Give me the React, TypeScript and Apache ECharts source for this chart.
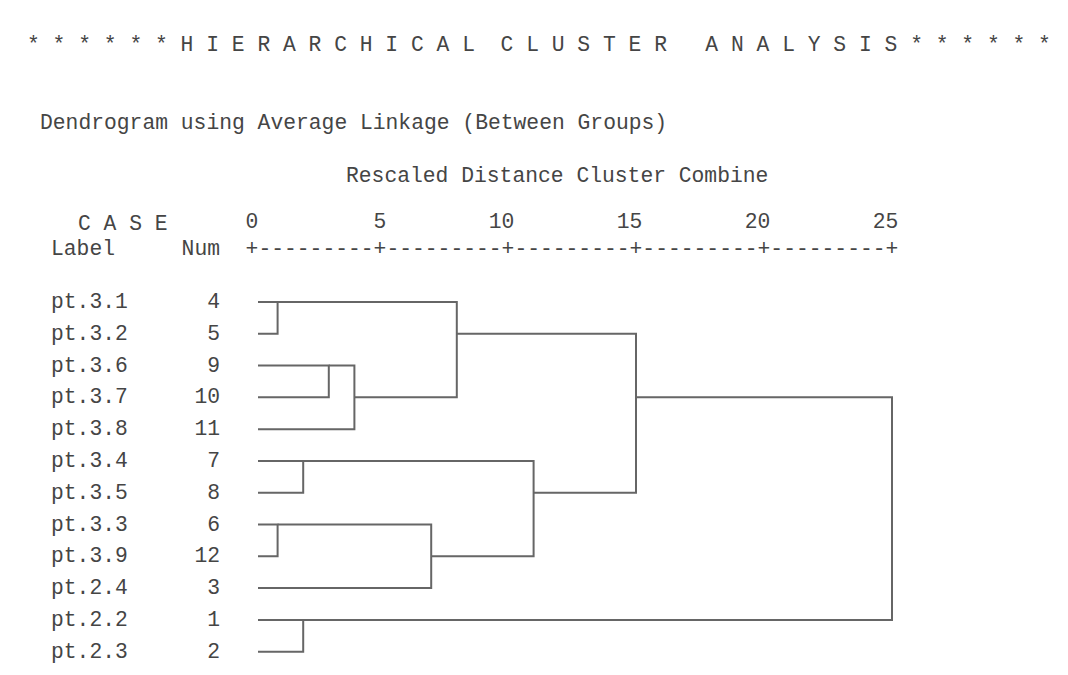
import React, { useEffect, useRef } from "react";
import * as echarts from "echarts";

// ---- data ----
const caseLabels = ["pt.3.1", "pt.3.2", "pt.3.6", "pt.3.7", "pt.3.8", "pt.3.4", "pt.3.5", "pt.3.3", "pt.3.9", "pt.2.4", "pt.2.2", "pt.2.3"];
const caseNums = ["4", "5", "9", "10", "11", "7", "8", "6", "12", "3", "1", "2"];
// merges: cluster ids (0..11 = leaves in display order, 12+ = clusters created by earlier merges)
const mergeLeft = [0, 7, 5, 10, 2, 16, 13, 12, 14, 19, 21];
const mergeRight = [1, 8, 6, 11, 3, 4, 9, 17, 18, 20, 15];
const mergeDistance = [1, 1, 2, 2, 3, 4, 7, 8, 11, 15, 25];
const distanceTicks = [0, 5, 10, 15, 20, 25];

const titleText = "* * * * * * H I E R A R C H I C A L  C L U S T E R   A N A L Y S I S * * * * * *";
const subtitleText = "Dendrogram using Average Linkage (Between Groups)";
const axisTitleText = "Rescaled Distance Cluster Combine";

// ---- style ----
const FONT = '"Liberation Mono", "DejaVu Sans Mono", monospace';
const FS = 21.33;
const TEXT = "#454545";
const LINE = "#666666";
const LEAF_OFFSET = 6;

export default function App() {
  const ref = useRef<HTMLDivElement>(null);

  useEffect(() => {
    if (!ref.current) return;
    const chart = echarts.init(ref.current, null, { renderer: "svg" });

    const nodes: { x: number; y: number }[] = caseLabels.map((_, i) => ({ x: 0, y: i }));
    const mergeData = mergeLeft.map((l, k) => {
      const a = nodes[l];
      const b = nodes[mergeRight[k]];
      const d = mergeDistance[k];
      nodes.push({ x: d, y: Math.floor((a.y + b.y) / 2) });
      return [a.x, a.y, d, b.x, b.y];
    });

    const axisRule = distanceTicks.map(() => "+").join("---------");

    const textStyle = (extra: any) => ({
      fontFamily: FONT,
      fontSize: FS,
      fill: TEXT,
      ...extra,
    });

    chart.setOption({
      animation: false,
      backgroundColor: "#ffffff",
      grid: { left: 252, right: 176, top: 286.1, bottom: 7.4, containLabel: false },
      xAxis: {
        type: "value",
        min: 0,
        max: 25,
        interval: 5,
        position: "top",
        axisLine: { show: false },
        axisTick: { show: false },
        splitLine: { show: false },
        axisLabel: {
          margin: 64,
          align: "center",
          verticalAlign: "middle",
          fontFamily: FONT,
          fontSize: FS,
          color: TEXT,
          formatter: (v: number) => {
            const s = String(v);
            return s + "\u00a0".repeat(s.length - 1);
          },
        },
      },
      yAxis: [
        {
          type: "value",
          min: -0.5,
          max: 11.5,
          inverse: true,
          show: false,
        },
        {
          type: "category",
          data: caseNums,
          inverse: true,
          position: "left",
          axisLine: { show: false },
          axisTick: { show: false },
          splitLine: { show: false },
          axisLabel: {
            interval: 0,
            margin: 32,
            align: "right",
            fontFamily: FONT,
            fontSize: FS,
            color: TEXT,
          },
        },
        {
          type: "category",
          data: caseLabels,
          inverse: true,
          position: "left",
          axisLine: { show: false },
          axisTick: { show: false },
          splitLine: { show: false },
          axisLabel: {
            interval: 0,
            margin: 201,
            align: "left",
            fontFamily: FONT,
            fontSize: FS,
            color: TEXT,
          },
        },
      ],
      graphic: [
        { type: "text", x: 27, y: 45, style: textStyle({ text: titleText, verticalAlign: "middle" }) },
        { type: "text", x: 40, y: 123, style: textStyle({ text: subtitleText, verticalAlign: "middle" }) },
        { type: "text", x: 346, y: 176, style: textStyle({ text: axisTitleText, verticalAlign: "middle" }) },
        { type: "text", x: 78, y: 224, style: textStyle({ text: "C A S E", verticalAlign: "middle" }) },
        { type: "text", x: 51, y: 249, style: textStyle({ text: "Label", verticalAlign: "middle" }) },
        { type: "text", x: 220, y: 249, style: textStyle({ text: "Num", align: "right", verticalAlign: "middle" }) },
        { type: "text", x: 245.6, y: 249, style: textStyle({ text: axisRule, verticalAlign: "middle" }) },
      ],
      series: [
        {
          type: "custom",
          xAxisIndex: 0,
          yAxisIndex: 0,
          clip: false,
          encode: { x: [0, 2, 3], y: [1, 4] },
          data: mergeData,
          renderItem: (params: any, api: any) => {
            const ax = api.value(0);
            const ay = api.value(1);
            const d = api.value(2);
            const bx = api.value(3);
            const by = api.value(4);
            const pA = api.coord([ax, ay]);
            if (ax === 0) pA[0] += LEAF_OFFSET;
            const pA2 = api.coord([d, ay]);
            const pB2 = api.coord([d, by]);
            const pB = api.coord([bx, by]);
            if (bx === 0) pB[0] += LEAF_OFFSET;
            return {
              type: "polyline",
              shape: { points: [pA, pA2, pB2, pB] },
              style: { stroke: LINE, lineWidth: 2, fill: "none" },
            };
          },
        },
      ],
    });

    return () => chart.dispose();
  }, []);

  return (
    <div
      ref={ref}
      style={{ position: "absolute", left: 0, top: 0, width: 1068, height: 675, background: "#fff" }}
    />
  );
}
